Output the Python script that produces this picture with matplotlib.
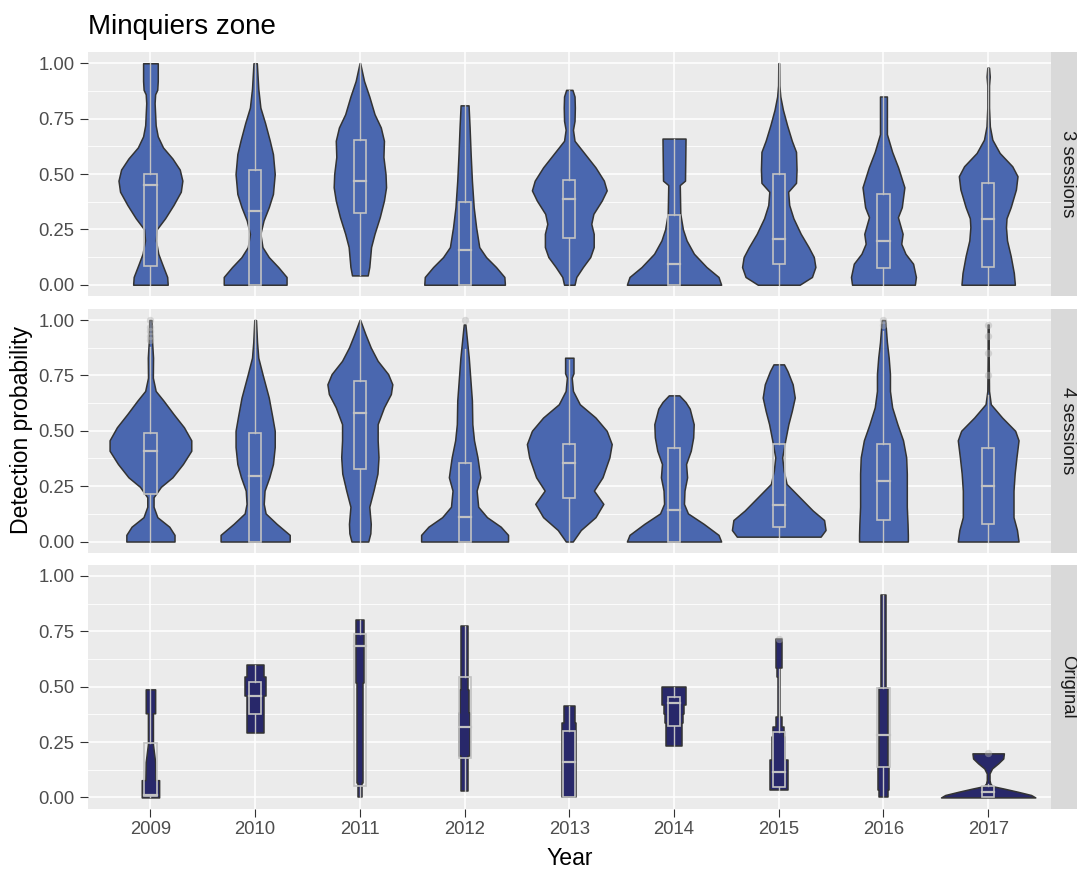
import matplotlib.pyplot as plt
from matplotlib.patches import Rectangle

plt.rcParams['font.family'] = ['Liberation Sans', 'DejaVu Sans']

years = [2009, 2010, 2011, 2012, 2013, 2014, 2015, 2016, 2017]
facets = ['3 sessions', '4 sessions', 'Original']
y_ticks = [0, 0.25, 0.5, 0.75, 1.0]
y_labels = ['0.00', '0.25', '0.50', '0.75', '1.00']

# violin outlines: heights and half widths (in x units)
s3_y = [
    [0, 0.035, 0.09, 0.14, 0.2, 0.25, 0.3, 0.36, 0.42, 0.47, 0.52, 0.57, 0.62, 0.67, 0.72, 0.82, 0.86, 0.88, 0.92, 1.0],
    [0, 0.035, 0.08, 0.125, 0.17, 0.23, 0.29, 0.35, 0.41, 0.5, 0.59, 0.65, 0.73, 0.8, 0.885, 1.0],
    [0.042, 0.08, 0.17, 0.23, 0.305, 0.38, 0.44, 0.5, 0.577, 0.65, 0.71, 0.77, 0.85, 0.92, 1.0],
    [0, 0.035, 0.08, 0.125, 0.17, 0.26, 0.35, 0.47, 0.59, 0.71, 0.81],
    [0, 0.035, 0.08, 0.125, 0.17, 0.23, 0.275, 0.32, 0.38, 0.426, 0.47, 0.53, 0.59, 0.65, 0.7, 0.74, 0.8, 0.85, 0.88],
    [0, 0.035, 0.08, 0.14, 0.2, 0.25, 0.32, 0.45, 0.47, 0.66],
    [0, 0.035, 0.08, 0.125, 0.17, 0.23, 0.3, 0.36, 0.42, 0.46, 0.52, 0.6, 0.65, 0.72, 0.79, 0.85, 0.9, 1.0],
    [0, 0.035, 0.095, 0.14, 0.185, 0.23, 0.305, 0.35, 0.44, 0.53, 0.6, 0.68, 0.85],
    [0, 0.053, 0.13, 0.2, 0.26, 0.3, 0.35, 0.43, 0.49, 0.535, 0.595, 0.655, 0.715, 0.8, 0.9, 0.94, 0.98],
]
s3_w = [
    [0.165, 0.16, 0.115, 0.075, 0.052, 0.06, 0.14, 0.22, 0.29, 0.305, 0.28, 0.21, 0.12, 0.07, 0.05, 0.04, 0.045, 0.065, 0.07, 0.07],
    [0.3, 0.3, 0.22, 0.13, 0.07, 0.05, 0.08, 0.13, 0.17, 0.187, 0.17, 0.14, 0.095, 0.05, 0.03, 0.016],
    [0.075, 0.09, 0.107, 0.14, 0.19, 0.23, 0.25, 0.245, 0.225, 0.23, 0.2, 0.14, 0.09, 0.04, 0.003],
    [0.385, 0.38, 0.3, 0.205, 0.14, 0.11, 0.087, 0.07, 0.058, 0.048, 0.038],
    [0.05, 0.067, 0.13, 0.2, 0.233, 0.233, 0.21, 0.23, 0.31, 0.357, 0.33, 0.25, 0.15, 0.05, 0.035, 0.05, 0.053, 0.05, 0.03],
    [0.45, 0.425, 0.31, 0.19, 0.12, 0.085, 0.06, 0.055, 0.105, 0.11],
    [0.2, 0.317, 0.35, 0.335, 0.285, 0.21, 0.14, 0.1, 0.09, 0.165, 0.17, 0.165, 0.125, 0.08, 0.04, 0.015, 0.006, 0.004],
    [0.3, 0.31, 0.283, 0.21, 0.17, 0.183, 0.138, 0.175, 0.2, 0.14, 0.083, 0.033, 0.033],
    [0.255, 0.245, 0.215, 0.18, 0.17, 0.175, 0.215, 0.265, 0.28, 0.23, 0.11, 0.04, 0.016, 0.008, 0.008, 0.015, 0.008],
]
s4_y = [
    [0, 0.03, 0.067, 0.11, 0.157, 0.2, 0.247, 0.29, 0.35, 0.41, 0.457, 0.516, 0.576, 0.636, 0.68, 0.74, 0.83, 0.9, 1.0],
    [0, 0.03, 0.08, 0.127, 0.17, 0.23, 0.29, 0.35, 0.427, 0.5, 0.56, 0.65, 0.756, 0.83, 0.9, 1.0],
    [0, 0.037, 0.08, 0.157, 0.23, 0.307, 0.38, 0.457, 0.53, 0.606, 0.666, 0.71, 0.756, 0.816, 0.876, 0.936, 1.0],
    [0, 0.03, 0.067, 0.11, 0.157, 0.23, 0.29, 0.38, 0.457, 0.53, 0.636, 0.74, 0.83, 0.9, 0.98],
    [0, 0.052, 0.11, 0.17, 0.23, 0.29, 0.38, 0.44, 0.5, 0.56, 0.62, 0.68, 0.74, 0.76, 0.83],
    [0, 0.03, 0.08, 0.127, 0.17, 0.23, 0.29, 0.35, 0.41, 0.47, 0.53, 0.6, 0.63, 0.66],
    [0.022, 0.052, 0.097, 0.14, 0.2, 0.26, 0.32, 0.38, 0.457, 0.53, 0.59, 0.65, 0.71, 0.77, 0.8],
    [0, 0.03, 0.08, 0.157, 0.23, 0.307, 0.38, 0.457, 0.53, 0.606, 0.68, 0.756, 0.83, 0.9, 0.98, 1.0],
    [0, 0.052, 0.11, 0.23, 0.307, 0.38, 0.457, 0.5, 0.56, 0.62, 0.68, 0.83, 0.98],
]
s4_w = [
    [0.23, 0.23, 0.18, 0.066, 0.03, 0.03, 0.1, 0.21, 0.31, 0.39, 0.39, 0.32, 0.22, 0.125, 0.05, 0.023, 0.025, 0.016, 0.01],
    [0.33, 0.33, 0.205, 0.1, 0.082, 0.09, 0.135, 0.17, 0.187, 0.187, 0.165, 0.13, 0.07, 0.03, 0.018, 0.008],
    [0.08, 0.1, 0.104, 0.09, 0.13, 0.168, 0.178, 0.17, 0.17, 0.23, 0.296, 0.31, 0.27, 0.17, 0.104, 0.053, 0.003],
    [0.415, 0.415, 0.345, 0.214, 0.13, 0.115, 0.15, 0.123, 0.09, 0.074, 0.07, 0.054, 0.04, 0.025, 0.008],
    [0.033, 0.11, 0.25, 0.325, 0.235, 0.317, 0.383, 0.405, 0.357, 0.25, 0.1, 0.035, 0.023, 0.04, 0.04],
    [0.45, 0.425, 0.283, 0.133, 0.095, 0.1, 0.125, 0.115, 0.16, 0.183, 0.188, 0.15, 0.11, 0.05],
    [0.4, 0.447, 0.433, 0.325, 0.2, 0.075, 0.047, 0.033, 0.062, 0.092, 0.125, 0.153, 0.133, 0.083, 0.05],
    [0.233, 0.233, 0.23, 0.223, 0.223, 0.223, 0.217, 0.187, 0.133, 0.083, 0.062, 0.062, 0.05, 0.033, 0.02, 0.015],
    [0.29, 0.275, 0.242, 0.242, 0.253, 0.27, 0.29, 0.258, 0.133, 0.025, 0.008, 0.005, 0.005],
]
orig_y = [
    [0, 0.078, 0.078, 0.16, 0.24, 0.38, 0.38, 0.488],
    [0.293, 0.456, 0.456, 0.546, 0.546, 0.6],
    [0, 0.065, 0.065, 0.516, 0.516, 0.8],
    [0.027, 0.185, 0.185, 0.38, 0.38, 0.486, 0.486, 0.775],
    [0, 0.335, 0.335, 0.415],
    [0.232, 0.334, 0.334, 0.377, 0.377, 0.417, 0.417, 0.5],
    [0.033, 0.169, 0.169, 0.274, 0.274, 0.32, 0.32, 0.364, 0.364, 0.545, 0.545, 0.583, 0.583, 0.714],
    [0, 0.033, 0.033, 0.139, 0.139, 0.492, 0.492, 0.914],
    [0, 0.011, 0.026, 0.04, 0.051, 0.063, 0.078, 0.108, 0.131, 0.154, 0.176, 0.199],
]
orig_w = [
    [0.083, 0.083, 0.048, 0.045, 0.024, 0.024, 0.045, 0.045],
    [0.082, 0.082, 0.1, 0.1, 0.082, 0.082],
    [0.022, 0.022, 0.03, 0.03, 0.04, 0.04],
    [0.036, 0.036, 0.05, 0.05, 0.04, 0.04, 0.03, 0.03],
    [0.067, 0.067, 0.053, 0.053],
    [0.073, 0.073, 0.086, 0.086, 0.1, 0.1, 0.115, 0.115],
    [0.086, 0.086, 0.064, 0.064, 0.05, 0.05, 0.03, 0.03, 0.01, 0.01, 0.016, 0.016, 0.03, 0.03],
    [0.04, 0.04, 0.05, 0.05, 0.045, 0.045, 0.02, 0.02],
    [0.45, 0.41, 0.28, 0.15, 0.04, 0.02, 0.013, 0.013, 0.037, 0.096, 0.144, 0.15],
]

# boxplot statistics per year
s3_lo = [0, 0, 0.042, 0, 0, 0, 0, 0, 0]
s3_q1 = [0.084, 0.0, 0.324, 0.0, 0.212, 0.0, 0.095, 0.075, 0.08]
s3_med = [0.452, 0.333, 0.467, 0.158, 0.386, 0.095, 0.208, 0.197, 0.298]
s3_q3 = [0.498, 0.52, 0.652, 0.373, 0.471, 0.313, 0.498, 0.411, 0.461]
s3_hi = [1.0, 1.0, 1.0, 0.81, 0.88, 0.66, 1.0, 0.85, 0.98]
s3_out = [[], [], [], [], [], [], [], [], []]

s4_lo = [0, 0, 0, 0, 0, 0, 0.022, 0, 0]
s4_q1 = [0.214, 0.0, 0.326, 0.0, 0.195, 0.0, 0.064, 0.097, 0.079]
s4_med = [0.41, 0.295, 0.58, 0.112, 0.355, 0.142, 0.165, 0.274, 0.251]
s4_q3 = [0.49, 0.49, 0.726, 0.356, 0.439, 0.424, 0.439, 0.439, 0.424]
s4_hi = [0.88, 1.0, 1.0, 0.87, 0.82, 0.66, 0.8, 0.95, 0.66]
s4_out = [[0.91, 0.93, 0.95, 0.97, 1.0], [], [], [1.0], [], [], [], [0.98, 1.0], [0.75, 0.85, 0.93, 0.98]]

orig_lo = [0, 0.293, 0, 0.027, 0, 0.232, 0.033, 0, 0]
orig_q1 = [0.005, 0.376, 0.053, 0.177, 0.0, 0.324, 0.048, 0.139, 0.0]
orig_med = [0.01, 0.46, 0.684, 0.32, 0.162, 0.428, 0.116, 0.282, 0.026]
orig_q3 = [0.244, 0.52, 0.74, 0.543, 0.298, 0.455, 0.297, 0.492, 0.051]
orig_hi = [0.488, 0.6, 0.8, 0.775, 0.415, 0.5, 0.58, 0.914, 0.06]
orig_out = [[], [], [], [], [], [], [0.714], [], [0.199]]

panels = [
    (s3_y, s3_w, s3_lo, s3_q1, s3_med, s3_q3, s3_hi, s3_out, '#4A67AF'),
    (s4_y, s4_w, s4_lo, s4_q1, s4_med, s4_q3, s4_hi, s4_out, '#4A67AF'),
    (orig_y, orig_w, orig_lo, orig_q1, orig_med, orig_q3, orig_hi, orig_out, '#28286A'),
]

W, H = 1077, 871
fig = plt.figure(figsize=(W / 100, H / 100), dpi=100)

left, right = 87.6, 1051
tops = [52.2, 309.0, 564.9]
ph = 243.6
box_hw = 0.058
box_col = '#C2C2C2'

for k, (vy, vw, lo, q1, med, q3, hi, outs, fill) in enumerate(panels):
    ax = fig.add_axes([left / W, (H - tops[k] - ph) / H, (right - left) / W, ph / H])
    ax.set_facecolor('#EBEBEB')
    for s in ax.spines.values():
        s.set_visible(False)
    ax.set_xlim(-0.6, len(years) - 0.4)
    ax.set_ylim(-0.05, 1.05)
    ax.set_xticks(range(len(years)))
    ax.set_yticks(y_ticks)
    ax.set_yticks([0.125, 0.375, 0.625, 0.875], minor=True)
    ax.set_yticklabels(y_labels)
    ax.set_axisbelow(True)
    ax.grid(which='major', color='white', lw=1.1)
    ax.grid(which='minor', axis='y', color='white', lw=0.6)
    ax.tick_params(which='minor', length=0)
    ax.tick_params(axis='y', length=6, width=0.8, color='#333333', pad=3.3,
                   labelsize=13.3, labelcolor='#4D4D4D')
    if k < 2:
        ax.tick_params(axis='x', length=0, labelbottom=False)
    else:
        ax.tick_params(axis='x', length=6, width=0.8, color='#333333', pad=2.8,
                       labelsize=13.3, labelcolor='#4D4D4D')
        ax.set_xticklabels([str(y) for y in years])

    for i in range(len(years)):
        xs_l = [i - w for w in vw[i]]
        xs_r = [i + w for w in vw[i]]
        ax.fill_betweenx(vy[i], xs_l, xs_r, facecolor=fill, edgecolor='#333333',
                         lw=1.1, zorder=2)
        ax.add_patch(Rectangle((i - box_hw, q1[i]), 2 * box_hw, q3[i] - q1[i],
                               fill=False, ec=box_col, lw=1.2, zorder=3))
        ax.plot([i - box_hw, i + box_hw], [med[i], med[i]], color=box_col, lw=1.6, zorder=3)
        ax.plot([i, i], [lo[i], q1[i]], color=box_col, lw=1.0, zorder=3)
        ax.plot([i, i], [q3[i], hi[i]], color=box_col, lw=1.0, zorder=3)
        if outs[i]:
            ax.scatter([i] * len(outs[i]), outs[i], s=28, color='#B0B0B0', alpha=0.45,
                       lw=0, zorder=4)

    # facet strip on the right
    sx = fig.add_axes([right / W, (H - tops[k] - ph) / H, 37 / W, ph / H])
    sx.set_facecolor('#D9D9D9')
    sx.set_xticks([])
    sx.set_yticks([])
    for s in sx.spines.values():
        s.set_visible(False)
    fig.text(1067.5 / W, (H - tops[k] - ph / 2) / H, facets[k], rotation=-90,
             ha='center', va='center', fontsize=13.3, color='#1A1A1A')

fig.text(88 / W, (H - 34) / H, 'Minquiers zone', fontsize=20, color='black',
         ha='left', va='baseline')
fig.text(22 / W, (H - 430.3) / H, 'Detection probability', fontsize=16.6,
         rotation=90, ha='center', va='center', color='black')
fig.text((left + right) / 2 / W, (H - 865) / H, 'Year', fontsize=16.6,
         ha='center', va='baseline', color='black')

fig.savefig('out.png', dpi=100)
